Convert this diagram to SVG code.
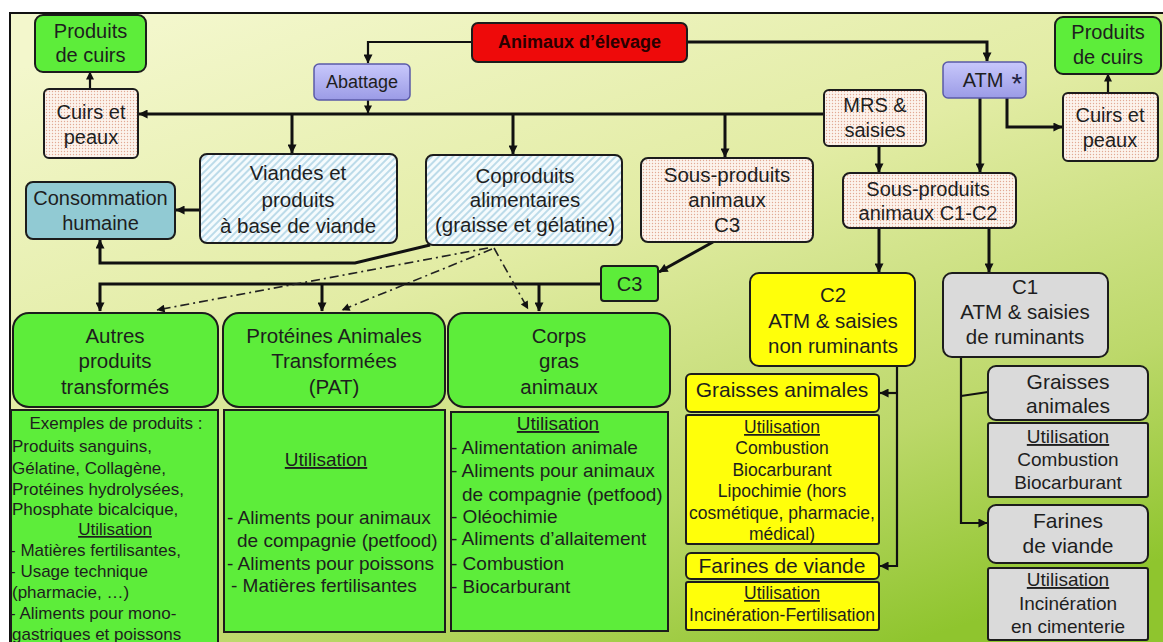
<svg xmlns="http://www.w3.org/2000/svg" width="1163" height="642" viewBox="0 0 1163 642">
<defs>
  <linearGradient id="bg" x1="0.15" y1="0" x2="0.75" y2="1">
    <stop offset="0" stop-color="#f3f7cc"/>
    <stop offset="0.4" stop-color="#e2eca4"/>
    <stop offset="0.75" stop-color="#bcd86a"/>
    <stop offset="1" stop-color="#8fc52e"/>
  </linearGradient>
  <linearGradient id="lav" x1="0" y1="0" x2="0" y2="1">
    <stop offset="0" stop-color="#c8c8fb"/>
    <stop offset="1" stop-color="#9b9be6"/>
  </linearGradient>
  <pattern id="dots" width="3" height="3" patternUnits="userSpaceOnUse">
    <rect width="3" height="3" fill="#fcf3ec"/>
    <circle cx="1.5" cy="1.5" r="0.7" fill="#e2a994"/>
  </pattern>
  <pattern id="hatch" width="5" height="5" patternUnits="userSpaceOnUse" patternTransform="rotate(45)">
    <rect width="5" height="5" fill="#f5fbfd"/>
    <line x1="1" y1="0" x2="1" y2="5" stroke="#aed3e4" stroke-width="1.6"/>
  </pattern>
  <marker id="ah" viewBox="0 0 10 10" refX="9.5" refY="5" markerWidth="10" markerHeight="9" markerUnits="userSpaceOnUse" orient="auto">
    <path d="M0,0 L10,5 L0,10 z" fill="#111"/>
  </marker>
  <marker id="ahs" viewBox="0 0 10 10" refX="9.5" refY="5" markerWidth="9" markerHeight="8" markerUnits="userSpaceOnUse" orient="auto">
    <path d="M0,0 L10,5 L0,10 z" fill="#111"/>
  </marker>
  <style>
    text { font-family: "Liberation Sans", Arial, sans-serif; fill: #1e1e1e; }
    .t20 { font-size: 20px; text-anchor: middle; }
    .t205 { font-size: 20.5px; text-anchor: middle; }
    .t21 { font-size: 21px; text-anchor: middle; }
    .t19 { font-size: 19px; }
    .t17 { font-size: 17px; }
    .t175 { font-size: 17.5px; text-anchor: middle; }
    .mid { text-anchor: middle; }
    .u { text-decoration: underline; }
    .box { stroke: #1c1c1c; stroke-width: 2; }
    .green { fill: #5ded3a; }
    .yellow { fill: #ffff0a; }
    .grey { fill: #dadada; }
    .dotted { fill: url(#dots); }
    .hatched { fill: url(#hatch); }
    .lav { fill: url(#lav); stroke: #5a5aa8; stroke-width: 1.5; }
    .ln { fill: none; stroke: #111; stroke-width: 3; }
    .ln2 { fill: none; stroke: #111; stroke-width: 2.2; }
    .dd { fill: none; stroke: #222; stroke-width: 1.6; stroke-dasharray: 9 4 2 4; }
  </style>
</defs>

<!-- background frame -->
<rect x="0" y="0" width="1163" height="642" fill="#ffffff"/>
<rect x="10" y="13" width="1160" height="640" fill="url(#bg)"/>
<path d="M10,642 V13 H1163" fill="none" stroke="#111" stroke-width="2"/>

<!-- connectors -->
<g id="connectors">
  <path class="ln2" d="M472,42 H368 V63" marker-end="url(#ah)"/>
  <path class="ln" d="M687,42 H987 V61" marker-end="url(#ah)"/>
  <path class="ln2" d="M368,100 V113" marker-end="url(#ahs)"/>
  <path class="ln" d="M824,114 H139" marker-end="url(#ah)"/>
  <path class="ln2" d="M90,89 V72" marker-end="url(#ahs)"/>
  <path class="ln" d="M292,114 V153" marker-end="url(#ah)"/>
  <path class="ln" d="M513,114 V154" marker-end="url(#ah)"/>
  <path class="ln" d="M725,114 V157" marker-end="url(#ah)"/>
  <path class="ln" d="M200,210 H176" marker-end="url(#ah)"/>
  <path class="ln" d="M430,245 L355,263 H100 V240" marker-end="url(#ah)"/>
  <path class="ln" d="M713,242 L659,272" marker-end="url(#ah)"/>
  <path class="ln" d="M601,284 H100 V311" marker-end="url(#ah)"/>
  <path class="ln" d="M322,284 V311" marker-end="url(#ah)"/>
  <path class="ln" d="M539,284 V311" marker-end="url(#ah)"/>
  <path class="dd" d="M488,248 L157,310" marker-end="url(#ahs)"/>
  <path class="dd" d="M492,249 L342,310" marker-end="url(#ahs)"/>
  <path class="dd" d="M494,248 L528,309" marker-end="url(#ahs)"/>
  <path class="ln" d="M1007,98 V127 H1062" marker-end="url(#ah)"/>
  <path class="ln" d="M980,98 V172" marker-end="url(#ah)"/>
  <path class="ln2" d="M1108,93 V74" marker-end="url(#ahs)"/>
  <path class="ln" d="M879,146 V172" marker-end="url(#ah)"/>
  <path class="ln" d="M879,228 V272" marker-end="url(#ah)"/>
  <path class="ln" d="M989,228 V272" marker-end="url(#ah)"/>
  <path class="ln2" d="M897,366 V566 H880" marker-end="url(#ah)"/>
  <path class="ln2" d="M897,393 H880" marker-end="url(#ah)"/>
  <path class="ln2" d="M961,357 V523 H987" marker-end="url(#ah)"/>
  <path class="ln2" d="M961,396 L988,392"/>
</g>

<g id="animaux">
  <rect class="box" x="472" y="23" width="215" height="39" rx="6" fill="#ee0a0a"/>
  <text x="579.5" y="48" class="mid" style="font-size:18px;font-weight:bold;fill:#2a0000">Animaux d’élevage</text>
</g>
<g id="abattage">
  <rect class="lav" x="314" y="64" width="96" height="36" rx="5"/>
  <text x="362" y="88" class="mid" style="font-size:18px">Abattage</text>
</g>
<g id="atm">
  <rect class="lav" x="943" y="62" width="83" height="36" rx="5"/>
  <text x="983" y="87" class="t20">ATM</text>
  <text x="1017" y="93" class="mid" style="font-size:28px;fill:#222244">*</text>
</g>
<g id="produits-cuirs-g">
  <rect class="box green" x="35" y="15" width="111" height="57" rx="8"/>
  <text x="90.5" y="38" class="t20">Produits</text>
  <text x="90.5" y="62" class="t20">de cuirs</text>
</g>
<g id="cuirs-peaux-g">
  <rect class="box dotted" x="44" y="89" width="94" height="69" rx="5"/>
  <text x="91" y="119" class="t20">Cuirs et</text>
  <text x="91" y="144" class="t20">peaux</text>
</g>
<g id="produits-cuirs-d">
  <rect class="box green" x="1055" y="17" width="106" height="57" rx="8"/>
  <text x="1108" y="39" class="t20">Produits</text>
  <text x="1108" y="64" class="t20">de cuirs</text>
</g>
<g id="cuirs-peaux-d">
  <rect class="box dotted" x="1063" y="93" width="95" height="68" rx="5"/>
  <text x="1110" y="122" class="t20">Cuirs et</text>
  <text x="1110" y="147" class="t20">peaux</text>
</g>
<g id="mrs">
  <rect class="box dotted" x="824" y="90" width="102" height="56" rx="5"/>
  <text x="875" y="112" class="t20">MRS &amp;</text>
  <text x="875" y="137" class="t20">saisies</text>
</g>
<g id="viandes">
  <rect class="box hatched" x="200" y="154" width="197" height="89" rx="7"/>
  <text x="298" y="180" class="t205">Viandes et</text>
  <text x="298" y="207" class="t205">produits</text>
  <text x="298" y="233" class="t205">à base de viande</text>
</g>
<g id="coproduits">
  <rect class="box hatched" x="426" y="155" width="196" height="90" rx="7"/>
  <text x="525" y="183" class="t205">Coproduits</text>
  <text x="525" y="207" class="t205">alimentaires</text>
  <text x="525" y="232" class="t205">(graisse et gélatine)</text>
</g>
<g id="sp-c3">
  <rect class="box dotted" x="641" y="158" width="172" height="84" rx="7"/>
  <text x="727" y="182" class="t205">Sous-produits</text>
  <text x="727" y="207" class="t205">animaux</text>
  <text x="727" y="232" class="t205">C3</text>
</g>
<g id="consommation">
  <rect class="box" x="26" y="182" width="149" height="57" rx="7" fill="#91cad3"/>
  <text x="100.5" y="205" class="t20">Consommation</text>
  <text x="100.5" y="230" class="t20">humaine</text>
</g>
<g id="sp-c1c2">
  <rect class="box dotted" x="843" y="173" width="173" height="55" rx="7"/>
  <text x="928" y="196" class="t20">Sous-produits</text>
  <text x="928" y="220" class="t20">animaux C1-C2</text>
</g>
<g id="c3">
  <rect class="box green" x="601" y="266" width="57" height="35" rx="3"/>
  <text x="629.5" y="291" class="t20">C3</text>
</g>
<g id="autres">
  <rect class="box green" x="13" y="313" width="205" height="94" rx="16"/>
  <text x="115" y="343" class="t205">Autres</text>
  <text x="115" y="368" class="t205">produits</text>
  <text x="115" y="394" class="t205">transformés</text>
</g>
<g id="pat">
  <rect class="box green" x="223" y="313" width="222" height="94" rx="16"/>
  <text x="334" y="343" class="t205">Protéines Animales</text>
  <text x="334" y="368" class="t205">Transformées</text>
  <text x="334" y="394" class="t205">(PAT)</text>
</g>
<g id="corps-gras">
  <rect class="box green" x="448" y="313" width="222" height="94" rx="16"/>
  <text x="559" y="343" class="t205">Corps</text>
  <text x="559" y="368" class="t205">gras</text>
  <text x="559" y="394" class="t205">animaux</text>
</g>
<g id="autres-util">
  <rect class="box green" x="11" y="410" width="207" height="240"/>
  <text x="116" y="429" class="t17 mid">Exemples de produits :</text>
  <text x="12" y="452" class="t17">Produits sanguins,</text>
  <text x="12" y="474" class="t17">Gélatine, Collagène,</text>
  <text x="12" y="495" class="t17">Protéines hydrolysées,</text>
  <text x="12" y="515" class="t17">Phosphate bicalcique,</text>
  <text x="115" y="535" class="t17 mid u">Utilisation</text>
  <text x="10" y="556" class="t17">- Matières fertilisantes,</text>
  <text x="10" y="577" class="t17">- Usage technique</text>
  <text x="12" y="598" class="t17">(pharmacie, …)</text>
  <text x="10" y="619" class="t17">- Aliments pour mono-</text>
  <text x="12" y="640" class="t17">gastriques et poissons</text>
</g>
<g id="pat-util">
  <rect class="box green" x="224" y="410" width="221" height="222"/>
  <text x="326" y="466" class="t19 mid u">Utilisation</text>
  <text x="227" y="524" class="t19">- Aliments pour animaux</text>
  <text x="237" y="547" class="t19">de compagnie (petfood)</text>
  <text x="227" y="570" class="t19">- Aliments pour poissons</text>
  <text x="231" y="592" class="t19">- Matières fertilisantes</text>
</g>
<g id="corps-util">
  <rect class="box green" x="451" y="412" width="217" height="219"/>
  <text x="558" y="430" class="t19 mid u">Utilisation</text>
  <text x="451" y="454" class="t19">- Alimentation animale</text>
  <text x="451" y="477" class="t19">- Aliments pour animaux</text>
  <text x="462" y="501" class="t19">de compagnie (petfood)</text>
  <text x="451" y="523" class="t19">- Oléochimie</text>
  <text x="451" y="545" class="t19">- Aliments d’allaitement</text>
  <text x="451" y="570" class="t19">- Combustion</text>
  <text x="451" y="593" class="t19">- Biocarburant</text>
</g>
<g id="c2">
  <rect class="box yellow" x="750" y="273" width="165" height="93" rx="9"/>
  <text x="833" y="302" class="t205">C2</text>
  <text x="833" y="328" class="t205">ATM &amp; saisies</text>
  <text x="833" y="353" class="t205">non ruminants</text>
</g>
<g id="graisses-c2">
  <rect class="box yellow" x="686" y="374" width="193" height="38" rx="5"/>
  <text x="782" y="397" class="t21">Graisses animales</text>
</g>
<g id="graisses-c2-util">
  <rect class="box yellow" x="686" y="415" width="193" height="129" rx="2"/>
  <text x="782" y="433" class="t175 u">Utilisation</text>
  <text x="782" y="454" class="t175">Combustion</text>
  <text x="782" y="476" class="t175">Biocarburant</text>
  <text x="782" y="497" class="t175">Lipochimie (hors</text>
  <text x="782" y="519" class="t175">cosmétique, pharmacie,</text>
  <text x="782" y="540" class="t175">médical)</text>
</g>
<g id="farines-c2">
  <rect class="box yellow" x="686" y="553" width="193" height="26" rx="5"/>
  <text x="782" y="573" class="t21">Farines de viande</text>
</g>
<g id="farines-c2-util">
  <rect class="box yellow" x="686" y="582" width="193" height="48" rx="2"/>
  <text x="782" y="599" class="t175 u">Utilisation</text>
  <text x="782" y="621" class="t175">Incinération-Fertilisation</text>
</g>
<g id="c1">
  <rect class="box grey" x="943" y="273" width="165" height="84" rx="9"/>
  <text x="1025" y="294" class="t205">C1</text>
  <text x="1025" y="319" class="t205">ATM &amp; saisies</text>
  <text x="1025" y="344" class="t205">de ruminants</text>
</g>
<g id="graisses-c1">
  <rect class="box grey" x="988" y="366" width="160" height="54" rx="8"/>
  <text x="1068" y="389" class="t21">Graisses</text>
  <text x="1068" y="413" class="t21">animales</text>
</g>
<g id="graisses-c1-util">
  <rect class="box grey" x="988" y="423" width="160" height="74" rx="2"/>
  <text x="1068" y="443" class="t19 mid u">Utilisation</text>
  <text x="1068" y="466" class="t19 mid">Combustion</text>
  <text x="1068" y="489" class="t19 mid">Biocarburant</text>
</g>
<g id="farines-c1">
  <rect class="box grey" x="988" y="505" width="160" height="58" rx="8"/>
  <text x="1068" y="528" class="t21">Farines</text>
  <text x="1068" y="553" class="t21">de viande</text>
</g>
<g id="farines-c1-util">
  <rect class="box grey" x="988" y="568" width="160" height="72" rx="2"/>
  <text x="1068" y="586" class="t19 mid u">Utilisation</text>
  <text x="1068" y="610" class="t19 mid">Incinération</text>
  <text x="1068" y="633" class="t19 mid">en cimenterie</text>
</g>
</svg>
